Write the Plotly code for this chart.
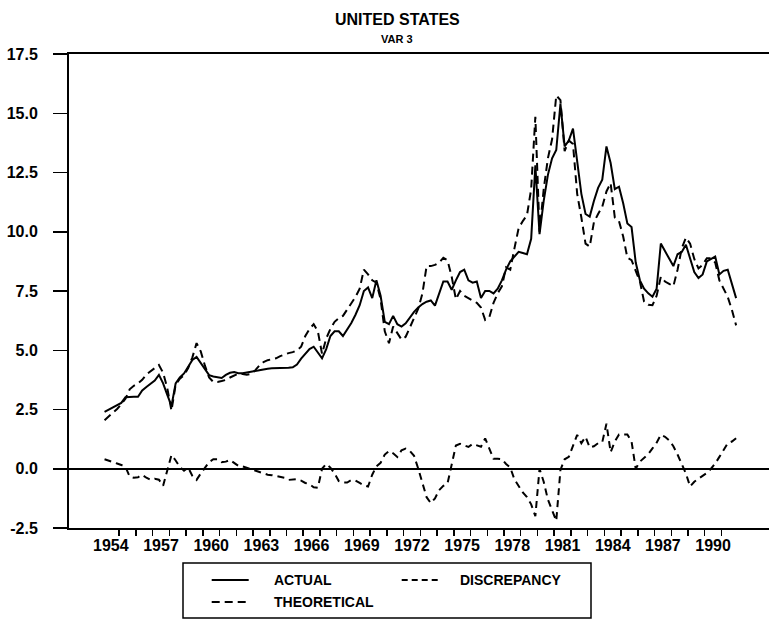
import plotly.graph_objects as go

# ---------------- data (quarterly, 1954Q1 .. 1991Q4) ----------------
years = list(range(1954, 1992))

actual = [
    2.40, 2.50, 2.60, 2.70,   # 1954
    2.78, 3.02, 3.04, 3.04,   # 1955
    3.04, 3.30, 3.45, 3.60,   # 1956
    3.72, 3.96, 3.60, 3.12,   # 1957
    2.65, 3.60, 3.85, 4.02,   # 1958
    4.30, 4.59, 4.72, 4.45,   # 1959
    4.20, 3.95, 3.89, 3.87,   # 1960
    3.83, 3.96, 4.05, 4.08,   # 1961
    4.03, 4.03, 4.05, 4.09,   # 1962
    4.12, 4.16, 4.20, 4.22,   # 1963
    4.24, 4.24, 4.24, 4.25,   # 1964
    4.26, 4.28, 4.40, 4.65,   # 1965
    4.85, 5.05, 5.15, 4.88,   # 1966
    4.66, 5.05, 5.60, 5.80,   # 1967
    5.80, 5.60, 5.85, 6.15,   # 1968
    6.50, 6.90, 7.50, 7.65,   # 1969
    7.20, 7.95, 7.30, 6.20,   # 1970
    6.10, 6.45, 6.10, 6.00,   # 1971
    6.14, 6.40, 6.62, 6.80,   # 1972
    6.95, 7.05, 7.10, 6.88,   # 1973
    7.40, 7.90, 7.90, 7.55,   # 1974
    7.95, 8.30, 8.40, 7.95,   # 1975
    7.85, 7.90, 7.20, 7.50,   # 1976
    7.50, 7.40, 7.60, 7.95,   # 1977
    8.40, 8.75, 8.95, 9.15,   # 1978
    9.10, 9.05, 9.70, 12.80,  # 1979
    9.90, 11.30, 12.40, 13.10,  # 1980
    13.45, 15.40, 13.60, 13.85,  # 1981
    14.35, 13.00, 11.60, 10.75,  # 1982
    10.64, 11.30, 11.85, 12.20,  # 1983
    13.60, 12.90, 11.80, 11.90,  # 1984
    11.20, 10.35, 10.20, 8.70,   # 1985
    7.95, 7.60, 7.40, 7.26,   # 1986
    7.60, 9.50, 9.20, 8.85,   # 1987
    8.55, 9.05, 9.15, 9.45,   # 1988
    8.90, 8.30, 8.05, 8.20,   # 1989
    8.75, 8.85, 8.95, 8.20,   # 1990
    8.35, 8.40, 7.80, 7.20,   # 1991
]

theoretical = [
    2.05, 2.20, 2.36, 2.52,   # 1954
    2.72, 2.95, 3.35, 3.50,   # 1955
    3.60, 3.75, 3.98, 4.12,   # 1956
    4.25, 4.38, 4.05, 3.40,   # 1957
    2.45, 3.55, 3.80, 3.95,   # 1958
    4.25, 4.70, 5.30, 4.95,   # 1959
    4.35, 3.85, 3.66, 3.66,   # 1960
    3.70, 3.75, 3.85, 3.93,   # 1961
    4.02, 4.00, 3.97, 4.00,   # 1962
    4.15, 4.35, 4.50, 4.58,   # 1963
    4.62, 4.66, 4.75, 4.83,   # 1964
    4.88, 4.92, 5.00, 5.15,   # 1965
    5.60, 5.90, 6.10, 5.80,   # 1966
    4.85, 5.50, 5.90, 6.20,   # 1967
    6.35, 6.45, 6.70, 6.95,   # 1968
    7.25, 7.60, 8.40, 8.20,   # 1969
    7.95, 7.85, 7.15, 5.80,   # 1970
    5.30, 6.00, 5.70, 5.45,   # 1971
    5.57, 5.95, 6.30, 6.75,   # 1972
    7.40, 8.55, 8.55, 8.60,   # 1973
    8.70, 8.90, 8.80, 8.10,   # 1974
    7.15, 7.50, 7.30, 7.20,   # 1975
    7.12, 7.00, 6.80, 6.28,   # 1976
    6.40, 7.00, 7.40, 7.70,   # 1977
    8.50, 8.40, 9.30, 10.15,  # 1978
    10.45, 10.70, 11.80, 14.85,  # 1979
    10.00, 11.80, 13.10, 13.90,  # 1980
    15.75, 15.55, 13.40, 13.85,  # 1981
    13.70, 11.60, 10.60, 9.50,   # 1982
    9.37, 10.40, 10.75, 11.06,   # 1983
    11.70, 12.05, 10.60, 10.45,  # 1984
    9.80, 8.90, 8.80, 8.35,   # 1985
    7.90, 7.05, 6.92, 6.90,   # 1986
    7.30, 8.10, 7.90, 7.80,   # 1987
    7.70, 8.40, 9.30, 9.75,   # 1988
    9.50, 8.85, 8.45, 8.60,   # 1989
    8.88, 8.88, 8.70, 7.95,   # 1990
    7.60, 7.25, 6.70, 6.05,   # 1991
]

discrepancy = [
    0.40, 0.35, 0.30, 0.22,   # 1954
    0.16, 0.08, -0.33, -0.38,  # 1955
    -0.36, -0.26, -0.38, -0.47,  # 1956
    -0.42, -0.46, -0.72, -0.10,  # 1957
    0.58, 0.35, 0.08, -0.08,  # 1958
    0.05, -0.30, -0.47, -0.20,  # 1959
    0.05, 0.28, 0.40, 0.40,   # 1960
    0.28, 0.30, 0.37, 0.25,   # 1961
    0.12, 0.10, 0.04, 0.00,   # 1962
    -0.08, -0.12, -0.18, -0.25,  # 1963
    -0.27, -0.30, -0.32, -0.38,  # 1964
    -0.47, -0.46, -0.44, -0.50,  # 1965
    -0.60, -0.65, -0.78, -0.80,  # 1966
    0.00, 0.20, 0.05, -0.20,  # 1967
    -0.52, -0.58, -0.58, -0.48,  # 1968
    -0.50, -0.60, -0.70, -0.75,  # 1969
    -0.25, 0.10, 0.25, 0.60,  # 1970
    0.75, 0.65, 0.50, 0.78,   # 1971
    0.85, 0.75, 0.55, 0.00,   # 1972
    -0.65, -1.20, -1.45, -1.25,  # 1973
    -0.90, -0.72, -0.62, 0.20,  # 1974
    0.98, 1.05, 0.98, 0.92,   # 1975
    1.05, 1.00, 0.93, 1.28,   # 1976
    0.85, 0.42, 0.42, 0.40,   # 1977
    0.20, 0.05, -0.45, -0.75,  # 1978
    -1.00, -1.20, -1.50, -2.00,  # 1979
    0.00, -0.55, -1.30, -1.75,  # 1980
    -2.20, -0.05, 0.40, 0.50,  # 1981
    0.95, 1.43, 1.08, 1.35,   # 1982
    0.90, 0.95, 1.08, 1.12,   # 1983
    1.90, 0.70, 1.15, 1.45,   # 1984
    1.45, 1.45, 1.15, 0.00,   # 1985
    0.30, 0.48, 0.62, 0.86,   # 1986
    1.10, 1.43, 1.35, 1.20,   # 1987
    0.95, 0.60, 0.20, -0.20,  # 1988
    -0.75, -0.55, -0.42, -0.30,  # 1989
    -0.18, 0.00, 0.22, 0.50,  # 1990
    0.80, 1.08, 1.15, 1.29,   # 1991
]

# time index: middle of each quarter
t = [y + (q + 0.5) / 4 for y in years for q in range(4)]

label_years = list(range(1954, 1991, 3))
tick_boundaries = list(range(1955, 1992))
y_ticks = [-2.5, 0.0, 2.5, 5.0, 7.5, 10.0, 12.5, 15.0, 17.5]
y_ticktext = ["-2.5", "0.0", "2.5", "5.0", "7.5", "10.0", "12.5", "15.0", "17.5"]

FONT = "Liberation Sans, Arial, Helvetica, sans-serif"

fig = go.Figure()
fig.add_trace(go.Scatter(x=t, y=actual, mode="lines", name="ACTUAL",
                         line=dict(color="black", width=2)))
fig.add_trace(go.Scatter(x=t, y=theoretical, mode="lines", name="THEORETICAL",
                         line=dict(color="black", width=2, dash="8px,5px")))
fig.add_trace(go.Scatter(x=t, y=discrepancy, mode="lines", name="DISCREPANCY",
                         line=dict(color="black", width=2, dash="7px,5px")))
# carrier for the label axis
fig.add_trace(go.Scatter(x=[], y=[], xaxis="x2", showlegend=False, hoverinfo="skip"))

W, H = 769, 622
L, R, T, B = 69, 0, 54, 94
pw, ph = W - L - R, H - T - B

def px(xp):
    return (xp - L) / pw

def py(yp):
    return (H - B - yp) / ph

xr = [1952, 1952 + pw / 16.73]

fig.update_layout(
    width=W, height=H,
    margin=dict(l=L, r=R, t=T, b=B, pad=0, autoexpand=False),
    paper_bgcolor="white", plot_bgcolor="white",
    showlegend=False,
    font=dict(family=FONT, color="black"),
    xaxis=dict(
        range=xr, tickmode="array", tickvals=tick_boundaries, automargin=False,
        showticklabels=False, ticks="outside", ticklen=6, tickwidth=1.5,
        tickcolor="black", showline=True, linecolor="black", linewidth=2,
        mirror=True, showgrid=False, zeroline=False,
    ),
    xaxis2=dict(
        range=xr, overlaying="x", side="bottom", matches="x", automargin=False,
        tickmode="array", tickvals=[y + 0.5 for y in label_years],
        ticktext=[str(y) for y in label_years], ticks="", ticklen=0,
        showline=False, showgrid=False, zeroline=False,
        tickfont=dict(family=FONT, size=16, weight="bold", color="black"),
        ticklabelstandoff=6,
    ),
    yaxis=dict(
        range=[-2.5, 17.5], tickmode="array", tickvals=y_ticks, ticktext=y_ticktext,
        automargin=False,
        ticks="outside", ticklen=14, tickwidth=1.5, tickcolor="black",
        showline=True, linecolor="black", linewidth=2, mirror=False,
        showgrid=False, zeroline=True, zerolinecolor="black", zerolinewidth=2,
        tickfont=dict(family=FONT, size=16, weight="bold", color="black"),
        ticklabelstandoff=12,
    ),
)

annotations = [
    dict(text="UNITED STATES", x=px(397), y=py(20), xref="paper", yref="paper",
         showarrow=False, xanchor="center", yanchor="middle",
         font=dict(family=FONT, size=16, weight="bold")),
    dict(text="VAR 3", x=px(397), y=py(39), xref="paper", yref="paper",
         showarrow=False, xanchor="center", yanchor="middle",
         font=dict(family=FONT, size=11, weight="bold")),
]

# legend (drawn box with samples)
legend_items = [
    ("ACTUAL", None, 211.7, 271.7, 580),
    ("DISCREPANCY", "6px,4px", 401.7, 458.0, 580),
    ("THEORETICAL", "8px,5px", 211.7, 271.7, 602),
]
shapes = [dict(type="rect", xref="paper", yref="paper",
               x0=px(183), x1=px(591), y0=py(563), y1=py(618),
               line=dict(color="black", width=1.5), fillcolor="white")]
for name, dash, sx, tx, yy in legend_items:
    shapes.append(dict(type="line", xref="paper", yref="paper",
                       x0=px(sx), x1=px(sx + 37), y0=py(yy), y1=py(yy),
                       line=dict(color="black", width=2, dash=dash or "solid")))
    annotations.append(dict(text=name, x=px(tx), y=py(yy), xref="paper", yref="paper",
                            showarrow=False, xanchor="left", yanchor="middle",
                            font=dict(family=FONT, size=14, weight="bold")))

fig.update_layout(shapes=shapes, annotations=annotations)

fig.write_html(
    "out.html",
    config={"displayModeBar": False, "staticPlot": True},
    post_script="document.body.style.margin='0';document.body.style.overflow='hidden';",
)
